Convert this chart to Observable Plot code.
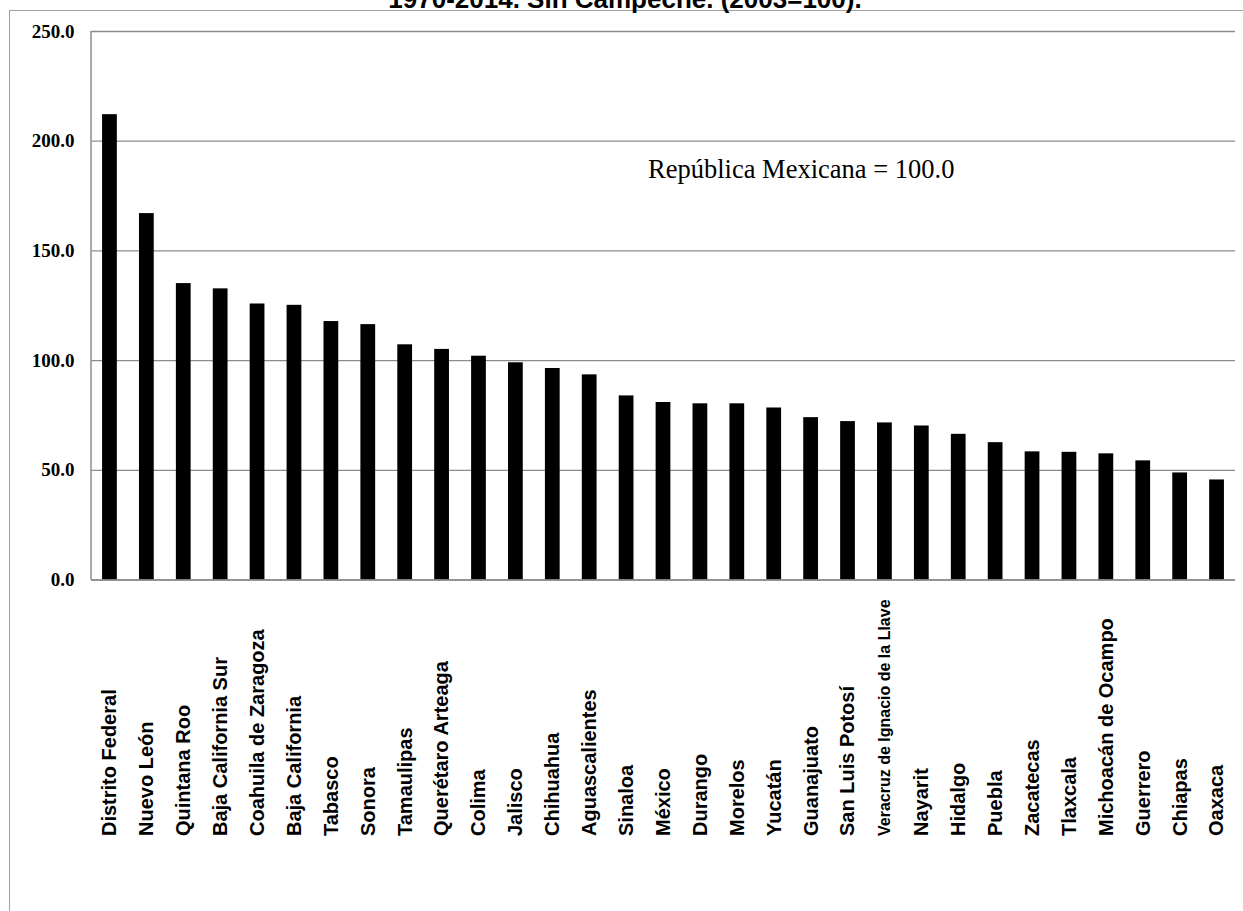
<!DOCTYPE html>
<html><head><meta charset="utf-8">
<script src="https://cdn.jsdelivr.net/npm/d3@7"></script>
<script src="https://cdn.jsdelivr.net/npm/@observablehq/plot@0.6"></script>
<style>
html,body{margin:0;padding:0;background:#fff;overflow:hidden;width:1243px;height:911px;position:relative}
#frame{position:absolute;left:9px;top:10px;width:1300px;height:1000px;border-left:1.5px solid #a0a0a0;border-top:1.5px solid #a0a0a0}
#title{position:absolute;left:0;width:1250px;top:-14px;text-align:center;font:bold 26px "Liberation Sans",Arial,sans-serif;line-height:26px;white-space:nowrap;color:#000}
#chart{position:absolute;left:0;top:0}
</style></head><body>
<div id="frame"></div>
<div id="title">1970-2014. Sin Campeche. (2003=100).</div>
<div id="chart"></div>
<script>
const states = ["Distrito Federal","Nuevo León","Quintana Roo","Baja California Sur","Coahuila de Zaragoza","Baja California","Tabasco","Sonora","Tamaulipas","Querétaro Arteaga","Colima","Jalisco","Chihuahua","Aguascalientes","Sinaloa","México","Durango","Morelos","Yucatán","Guanajuato","San Luis Potosí","Veracruz de Ignacio de la Llave","Nayarit","Hidalgo","Puebla","Zacatecas","Tlaxcala","Michoacán de Ocampo","Guerrero","Chiapas","Oaxaca"];
const values = [212.1,167.0,135.1,132.7,125.8,125.2,117.8,116.4,107.2,105.1,102.0,99.0,96.4,93.5,83.9,80.9,80.3,80.3,78.4,74.0,72.2,71.6,70.2,66.4,62.6,58.4,58.2,57.5,54.3,48.8,45.6];
const yTicks = [0,50,100,150,200,250];
const yTickLabels = ["0.0","50.0","100.0","150.0","200.0","250.0"];
const noteText = ["República Mexicana = 100.0"];
const noteAt = {state:"Yucatán", value:183.4};

const data = states.map((s,i)=>({state:s, value:values[i]}));
const grey = "#8c8c8c";

const leftAxisLine = (index, scales, vals, dims) => {
  const l = d3.create("svg:line")
    .attr("x1", dims.marginLeft).attr("x2", dims.marginLeft)
    .attr("y1", dims.marginTop).attr("y2", dims.height - dims.marginBottom)
    .attr("stroke", grey).attr("stroke-width", 1.5);
  return l.node();
};

const chart = Plot.plot({
  width:1243, height:911,
  marginLeft:91, marginRight:8, marginTop:31, marginBottom:331.5,
  style:{background:"transparent", overflow:"visible"},
  x:{domain:states, paddingInner:0.6, paddingOuter:0.3, round:false, axis:null},
  y:{domain:[0,250], axis:null},
  marks:[
    Plot.gridY(yTicks, {stroke:grey, strokeOpacity:1, strokeWidth:1.3}),
    Plot.text(yTicks, {y:d=>d, text:(d,i)=>yTickLabels[i], frameAnchor:"left", textAnchor:"end", dx:-17, fontSize:19, fontWeight:"bold", fontFamily:"Liberation Serif, serif", fill:"#000"}),
    Plot.barY(data, {x:"state", y:"value", fill:"#000"}),
    Plot.ruleY([0], {stroke:grey, strokeWidth:1.5}),
    leftAxisLine,
    Plot.text(states, {x:d=>d, text:d=>d, frameAnchor:"bottom", rotate:-90, textAnchor:"start", lineAnchor:"middle", dy:256, fontSize:d=>d.length>30?16:20, fontWeight:"bold", fontFamily:"Liberation Sans, Arial, sans-serif", fill:"#000"}),
    Plot.text(noteText, {x:()=>noteAt.state, y:()=>noteAt.value, text:d=>d, dx:27, textAnchor:"middle", lineAnchor:"bottom", fontSize:26.5, fontFamily:"Liberation Serif, serif", fill:"#000"})
  ]
});
document.getElementById("chart").appendChild(chart);
</script>
</body></html>
